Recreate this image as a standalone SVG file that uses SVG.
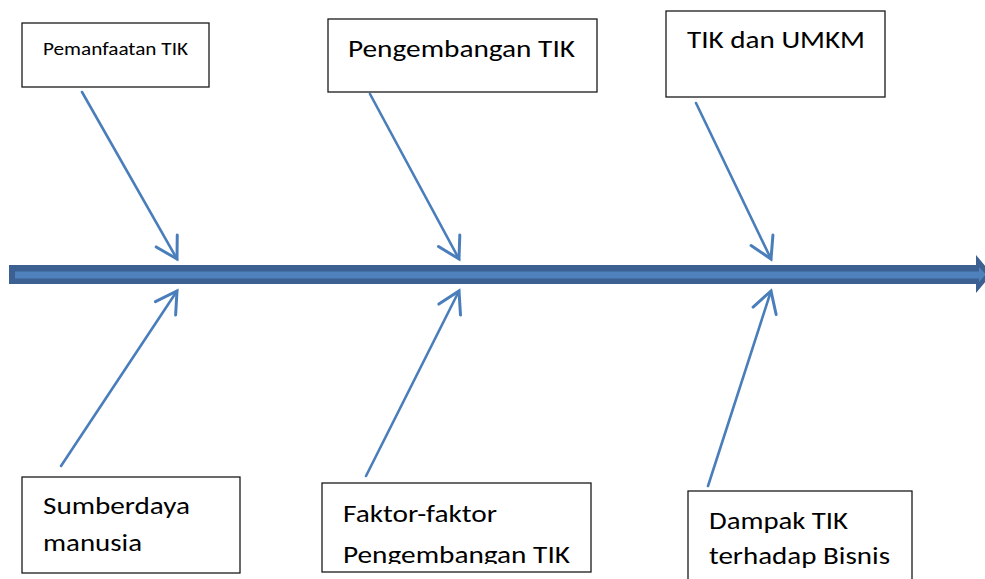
<svg xmlns="http://www.w3.org/2000/svg" width="985" height="579" viewBox="0 0 985 579">
  <style>
    .box { fill: #ffffff; stroke: #1a1a1a; stroke-width: 1.3; }
    .lbl { font-family: "Carlito", Lato, "Open Sans", sans-serif; fill: #000000; font-weight: 400; }
    .big { font-size: 25px; }
    .small { font-size: 19px; }
    .bone { fill: none; stroke: #4a7ebb; stroke-width: 2.6; stroke-linecap: round; marker-end: url(#head); }
  </style>
  <defs>
    <marker id="head" markerUnits="userSpaceOnUse" markerWidth="30" markerHeight="30" viewBox="-22 -12 26 24" refX="0" refY="0" orient="auto">
      <path d="M-18,-10.5 L0,0 L-18,10.5" fill="none" stroke="#4a7ebb" stroke-width="2.6" stroke-linecap="round" stroke-linejoin="miter"/>
    </marker>
    <clipPath id="clipFaktor">
      <rect x="322" y="483" width="269" height="81"/>
    </clipPath>
  </defs>

  <rect width="985" height="579" fill="#ffffff"/>

  <!-- main spine: block arrow pointing right -->
  <g id="spine">
    <path d="M9,265 H976 V255 L992,274 L976,293 V284 H9 Z" fill="#3b6091"/>
    <path d="M15,271.5 H979 V267 L986,274.5 L979,282 V278.5 H15 Z" fill="#4f81bd"/>
  </g>

  <!-- cause bones -->
  <g id="connectors">
    <line class="bone" x1="82" y1="92" x2="177" y2="259"/>
    <line class="bone" x1="370" y1="94" x2="459" y2="259"/>
    <line class="bone" x1="696" y1="103" x2="771" y2="259"/>
    <line class="bone" x1="61" y1="466" x2="177" y2="291"/>
    <line class="bone" x1="366" y1="476" x2="459" y2="291"/>
    <line class="bone" x1="708" y1="486" x2="771" y2="291"/>
  </g>

  <g id="pemanfaatan">
    <rect class="box" x="22" y="23" width="187" height="64"/>
    <text class="lbl small" x="43" y="55" textLength="145" lengthAdjust="spacingAndGlyphs">Pemanfaatan TIK</text>
  </g>

  <g id="pengembangan">
    <rect class="box" x="328" y="19" width="269" height="73"/>
    <text class="lbl big" x="348" y="57" textLength="227" lengthAdjust="spacingAndGlyphs">Pengembangan TIK</text>
  </g>

  <g id="umkm">
    <rect class="box" x="666" y="11" width="219" height="86"/>
    <text class="lbl big" x="687" y="48" textLength="178" lengthAdjust="spacingAndGlyphs">TIK dan UMKM</text>
  </g>

  <g id="sdm">
    <rect class="box" x="22" y="477" width="218" height="96"/>
    <text class="lbl big" x="43" y="514" textLength="147" lengthAdjust="spacingAndGlyphs">Sumberdaya</text>
    <text class="lbl big" x="43" y="551" textLength="99" lengthAdjust="spacingAndGlyphs">manusia</text>
  </g>

  <g id="faktor">
    <rect class="box" x="322" y="483" width="269" height="89"/>
    <g clip-path="url(#clipFaktor)">
      <text class="lbl big" x="343" y="522" textLength="154" lengthAdjust="spacingAndGlyphs">Faktor-faktor</text>
      <text class="lbl big" x="343" y="563" textLength="227" lengthAdjust="spacingAndGlyphs">Pengembangan TIK</text>
    </g>
  </g>

  <g id="dampak">
    <rect class="box" x="688" y="491" width="224" height="100"/>
    <text class="lbl big" x="709" y="529" textLength="139" lengthAdjust="spacingAndGlyphs">Dampak TIK</text>
    <text class="lbl big" x="709" y="564" textLength="181" lengthAdjust="spacingAndGlyphs">terhadap Bisnis</text>
  </g>
</svg>
